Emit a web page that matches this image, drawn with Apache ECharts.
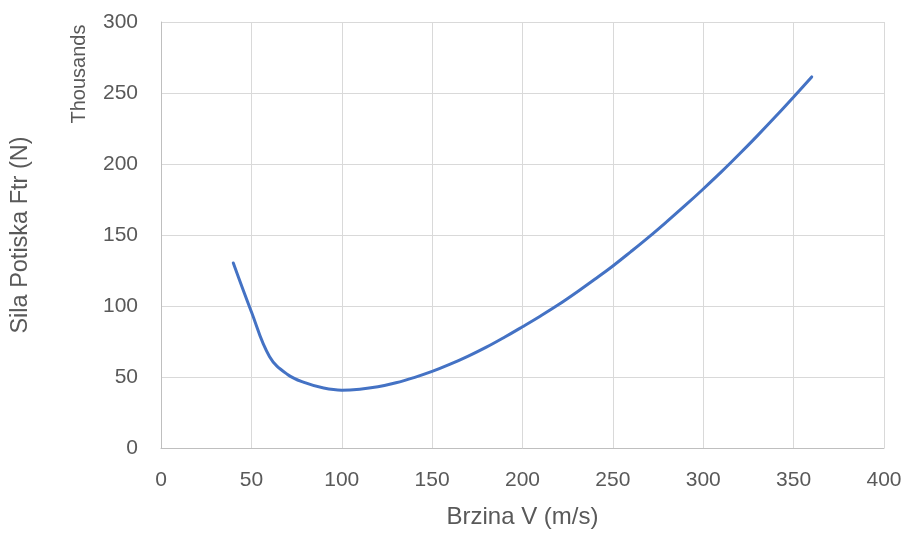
<!DOCTYPE html>
<html>
<head>
<meta charset="utf-8">
<script src="https://cdn.jsdelivr.net/npm/echarts@6/dist/echarts.min.js"></script>
<style>html,body{margin:0;padding:0;background:#fff}#c{width:906px;height:534px}</style>
</head>
<body>
<div id="c"></div>
<script>
// Speed V (m/s)
var speeds = [40,50,60,70,80,90,100,110,120,130,140,150,160,170,180,190,200,210,220,230,240,250,260,270,280,290,300,310,320,330,340,350,360];
// Thrust force Ftr (N)
var thrust = [130300,96000,64500,51800,45800,42200,40700,41400,43100,45900,49600,53900,59000,64700,71000,78000,85400,93000,101000,109700,118800,128200,138300,148700,159600,170800,182400,194400,207000,220000,233400,247200,261300];
var xTicks = {min:0, max:400, interval:50};
var yTicks = {min:0, max:300000, interval:50000};

var FONT = "'Liberation Sans',Arial,sans-serif";
var TXT = '#595959';
var chart = echarts.init(document.getElementById('c'));
var pts = speeds.map(function(v,i){return [v, thrust[i]];});
chart.setOption({
  animation:false,
  grid:{left:161,right:22,top:22,bottom:84},
  xAxis:{type:'value',min:xTicks.min,max:xTicks.max,interval:xTicks.interval,
    name:'Brzina V (m/s)',nameLocation:'middle',nameGap:57,
    nameTextStyle:{fontFamily:FONT,fontSize:24,color:TXT},
    axisLine:{show:true,lineStyle:{color:'#bfbfbf',width:1}},
    axisTick:{show:false},
    axisLabel:{fontFamily:FONT,fontSize:21,color:TXT,margin:22},
    splitLine:{show:true,lineStyle:{color:'#d9d9d9',width:1}}},
  yAxis:{type:'value',min:yTicks.min,max:yTicks.max,interval:yTicks.interval,
    name:'Sila Potiska Ftr (N)',nameLocation:'middle',nameGap:128,
    nameTextStyle:{fontFamily:FONT,fontSize:23.5,color:TXT},
    axisLine:{show:true,lineStyle:{color:'#bfbfbf',width:1}},
    axisTick:{show:false},
    axisLabel:{fontFamily:FONT,fontSize:21,color:TXT,margin:23,formatter:function(v){return String(v/1000);}},
    splitLine:{show:true,lineStyle:{color:'#d9d9d9',width:1}}},
  graphic:[{type:'text',x:79,y:74,rotation:Math.PI/2,
    style:{text:'Thousands',fontSize:20,fontFamily:FONT,fill:TXT,textAlign:'center',textVerticalAlign:'middle'}}],
  series:[{type:'line',data:pts,smooth:0.4,showSymbol:false,
    lineStyle:{color:'#4472c4',width:3,cap:'round'},itemStyle:{color:'#4472c4'}}]
});
</script>
</body>
</html>
